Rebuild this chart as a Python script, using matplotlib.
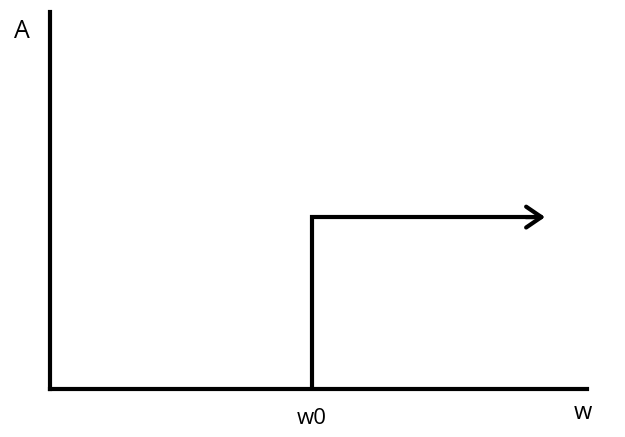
import matplotlib
matplotlib.use("Agg")
from matplotlib import pyplot as plt

# step response sketch: amplitude A jumps at w0 and stays constant
w_step = [0.488, 0.488, 0.916]
a_step = [0.0, 0.456, 0.456]
x_label = "w"
y_label = "A"
w0_label = "w0"

W, H = 625, 437
fig = plt.figure(figsize=(W / 100, H / 100), dpi=100)
# axes box in pixels: left 50, right 587, top 12, bottom 389
ax = fig.add_axes([50 / W, (H - 389) / H, (587 - 50) / W, (389 - 12) / H])
ax.set_xlim(0, 1)
ax.set_ylim(0, 1)
for s in ["top", "right"]:
    ax.spines[s].set_visible(False)
for s in ["left", "bottom"]:
    ax.spines[s].set_linewidth(3.0)
    ax.spines[s].set_color("black")
ax.set_xticks([])
ax.set_yticks([])

ax.plot(w_step, a_step, color="black", lw=3.0, solid_joinstyle="miter",
        solid_capstyle="butt", clip_on=False)
ax.annotate("", xy=(w_step[-1] + 0.006, a_step[-1]), xytext=(w_step[-1] - 0.03, a_step[-1]),
            arrowprops=dict(arrowstyle="->,head_length=1.1,head_width=0.75",
                            color="black", lw=3.0, capstyle="round",
                            joinstyle="round", shrinkA=0, shrinkB=0))

fig.text(22 / W, 1 - 32 / H, y_label, fontsize=18, family="Open Sans",
         ha="center", va="center")
fig.text(312 / W, 1 - 418 / H, w0_label, fontsize=16, family="Open Sans",
         ha="center", va="center")
fig.text(583 / W, 1 - 413 / H, x_label, fontsize=17, family="Open Sans",
         ha="center", va="center")

fig.savefig("out.png", dpi=100)
